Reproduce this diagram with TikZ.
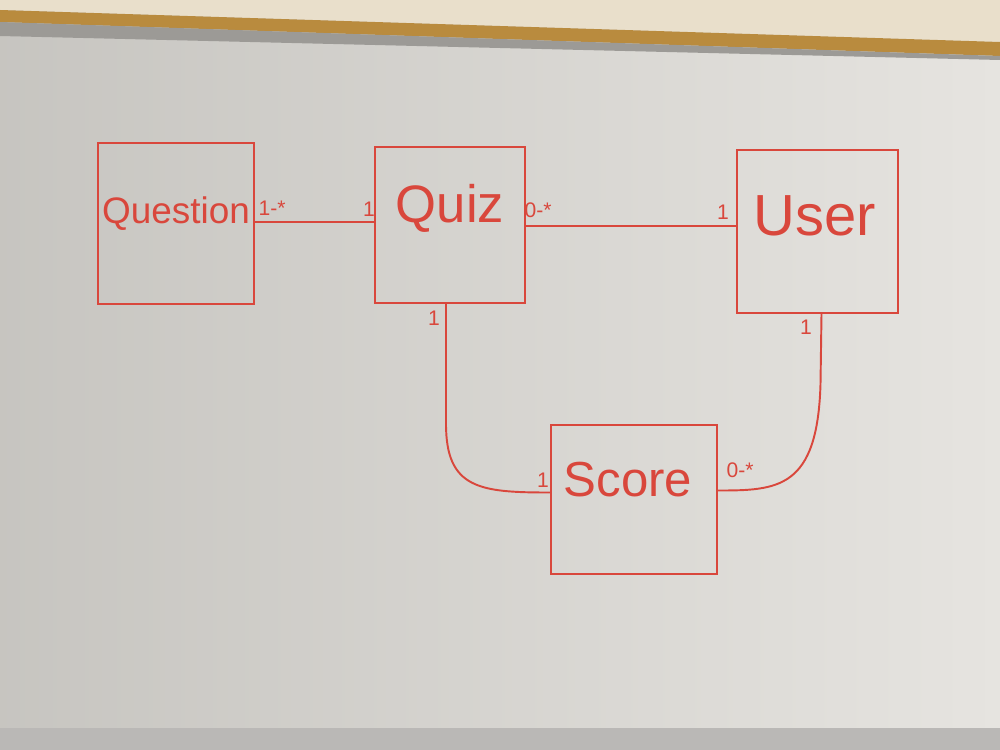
\documentclass[tikz,border=0pt]{standalone}
\usepackage{fontspec}
\setmainfont{Liberation Sans}
\usetikzlibrary{calc}
\definecolor{ink}{HTML}{D9473C}
\definecolor{board}{HTML}{D8D6D1}
\definecolor{boardlight}{HTML}{E6E4E0}
\definecolor{wall}{HTML}{E9DFCB}
\definecolor{wood}{HTML}{B98B3E}
\definecolor{frame}{HTML}{9C9A96}
\tikzset{
  umlbox/.style={draw=ink, line width=1.1pt, inner sep=0pt},
  title/.style={text=ink, inner sep=0pt},
  mult/.style={text=ink, font=\fontsize{12}{12}\selectfont, inner sep=1pt},
  link/.style={draw=ink, line width=1.1pt}
}
\begin{document}
\begin{tikzpicture}[x=0.02cm, y=-0.02cm]
\useasboundingbox (0,0) rectangle (1000,750);
% whiteboard and frame
\shade[left color=board!92!black, right color=boardlight] (0,0) rectangle (1000,750);
\fill[wall] (0,0) -- (1000,0) -- (1000,42) -- (0,10) -- cycle;
\fill[wood] (0,10) -- (1000,42) -- (1000,56) -- (0,22) -- cycle;
\fill[frame] (0,22) -- (1000,56) -- (1000,60) -- (0,36) -- cycle;
\fill[frame!70!white] (0,728) rectangle (1000,750);
% boxes
\node[umlbox, minimum width=3.12cm, minimum height=3.22cm] (question) at (176,223.5) {};
\node[umlbox, minimum width=3.0cm, minimum height=3.12cm] (quiz) at (450,225) {};
\node[umlbox, minimum width=3.22cm, minimum height=3.26cm] (user) at (817.5,231.5) {};
\node[umlbox, minimum width=3.32cm, minimum height=2.98cm] (score) at (634,499.5) {};
% titles
\node[title, font=\fontsize{21}{21}\selectfont] (tq) at (176,214) {Question};
\node[title, font=\fontsize{30}{30}\selectfont] (tz) at (450,208) {Quiz};
\node[title, font=\fontsize{33}{33}\selectfont] (tu) at (815,216) {User};
\node[title, font=\fontsize{28}{28}\selectfont] (ts) at (628,480) {Score};
% connectors
\draw[link] ($(question.east)+(0,-1.5)$) -- ($(quiz.west)+(0,-3)$);
\draw[link] ($(quiz.east)+(0,1)$) -- ($(user.west)+(0,-5.5)$);
\draw[link] ($(quiz.south)+(-4,0)$) -- ($(quiz.south)+(-4,120)$)
  .. controls ($(quiz.south)+(-4,185)$) and ($(score.west)+(-70,-7)$) .. ($(score.west)+(0,-7)$);
\draw[link] ($(user.south)+(4,0)$) -- ($(user.south)+(3,70)$)
  .. controls ($(user.south)+(0,175)$) and ($(score.east)+(60,-9)$) .. ($(score.east)+(0,-9)$);
% multiplicities
\node[mult] (m1) at (272,208) {1-*};
\node[mult] (m2) at (369,209) {1};
\node[mult] (m3) at (538,210) {0-*};
\node[mult] (m4) at (723,212) {1};
\node[mult] (m5) at (434,318) {1};
\node[mult] (m6) at (806,327) {1};
\node[mult] (m7) at (543,480) {1};
\node[mult] (m8) at (740,470) {0-*};
\end{tikzpicture}
\end{document}
